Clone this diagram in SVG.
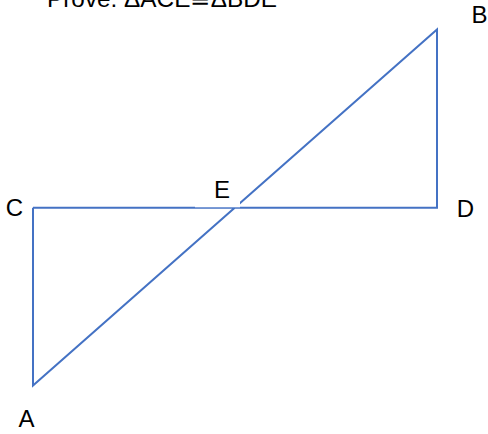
<svg xmlns="http://www.w3.org/2000/svg" width="488" height="434" viewBox="0 0 488 434">
<style>
.ln{stroke:#4472C4;stroke-width:2;fill:none;stroke-linejoin:miter}
.lb{font-family:"Liberation Sans",Arial,sans-serif;font-size:24px;fill:#000;text-anchor:middle}
.tt{font-family:"Liberation Sans",Arial,sans-serif;font-size:24px;fill:#000}
</style>
<rect width="488" height="434" fill="#fff"/>
<text class="tt" x="47" y="6.5" textLength="230" lengthAdjust="spacingAndGlyphs">Prove: ΔACE≅ΔBDE</text>
<g id="connectors">
<polyline class="ln" points="33,207.7 33,385.5 437,29.5 437,207.7 33,207.7"/>
</g>
<rect id="e-mask" x="195" y="178" width="45" height="29.3" fill="#fff"/>
<g id="node-B"><text class="lb" x="479.5" y="23">B</text></g>
<g id="node-C"><text class="lb" x="14.5" y="216">C</text></g>
<g id="node-D"><text class="lb" x="465.5" y="217">D</text></g>
<g id="node-E"><text class="lb" x="222" y="198">E</text></g>
<g id="node-A"><text class="lb" x="26.5" y="427">A</text></g>
</svg>
